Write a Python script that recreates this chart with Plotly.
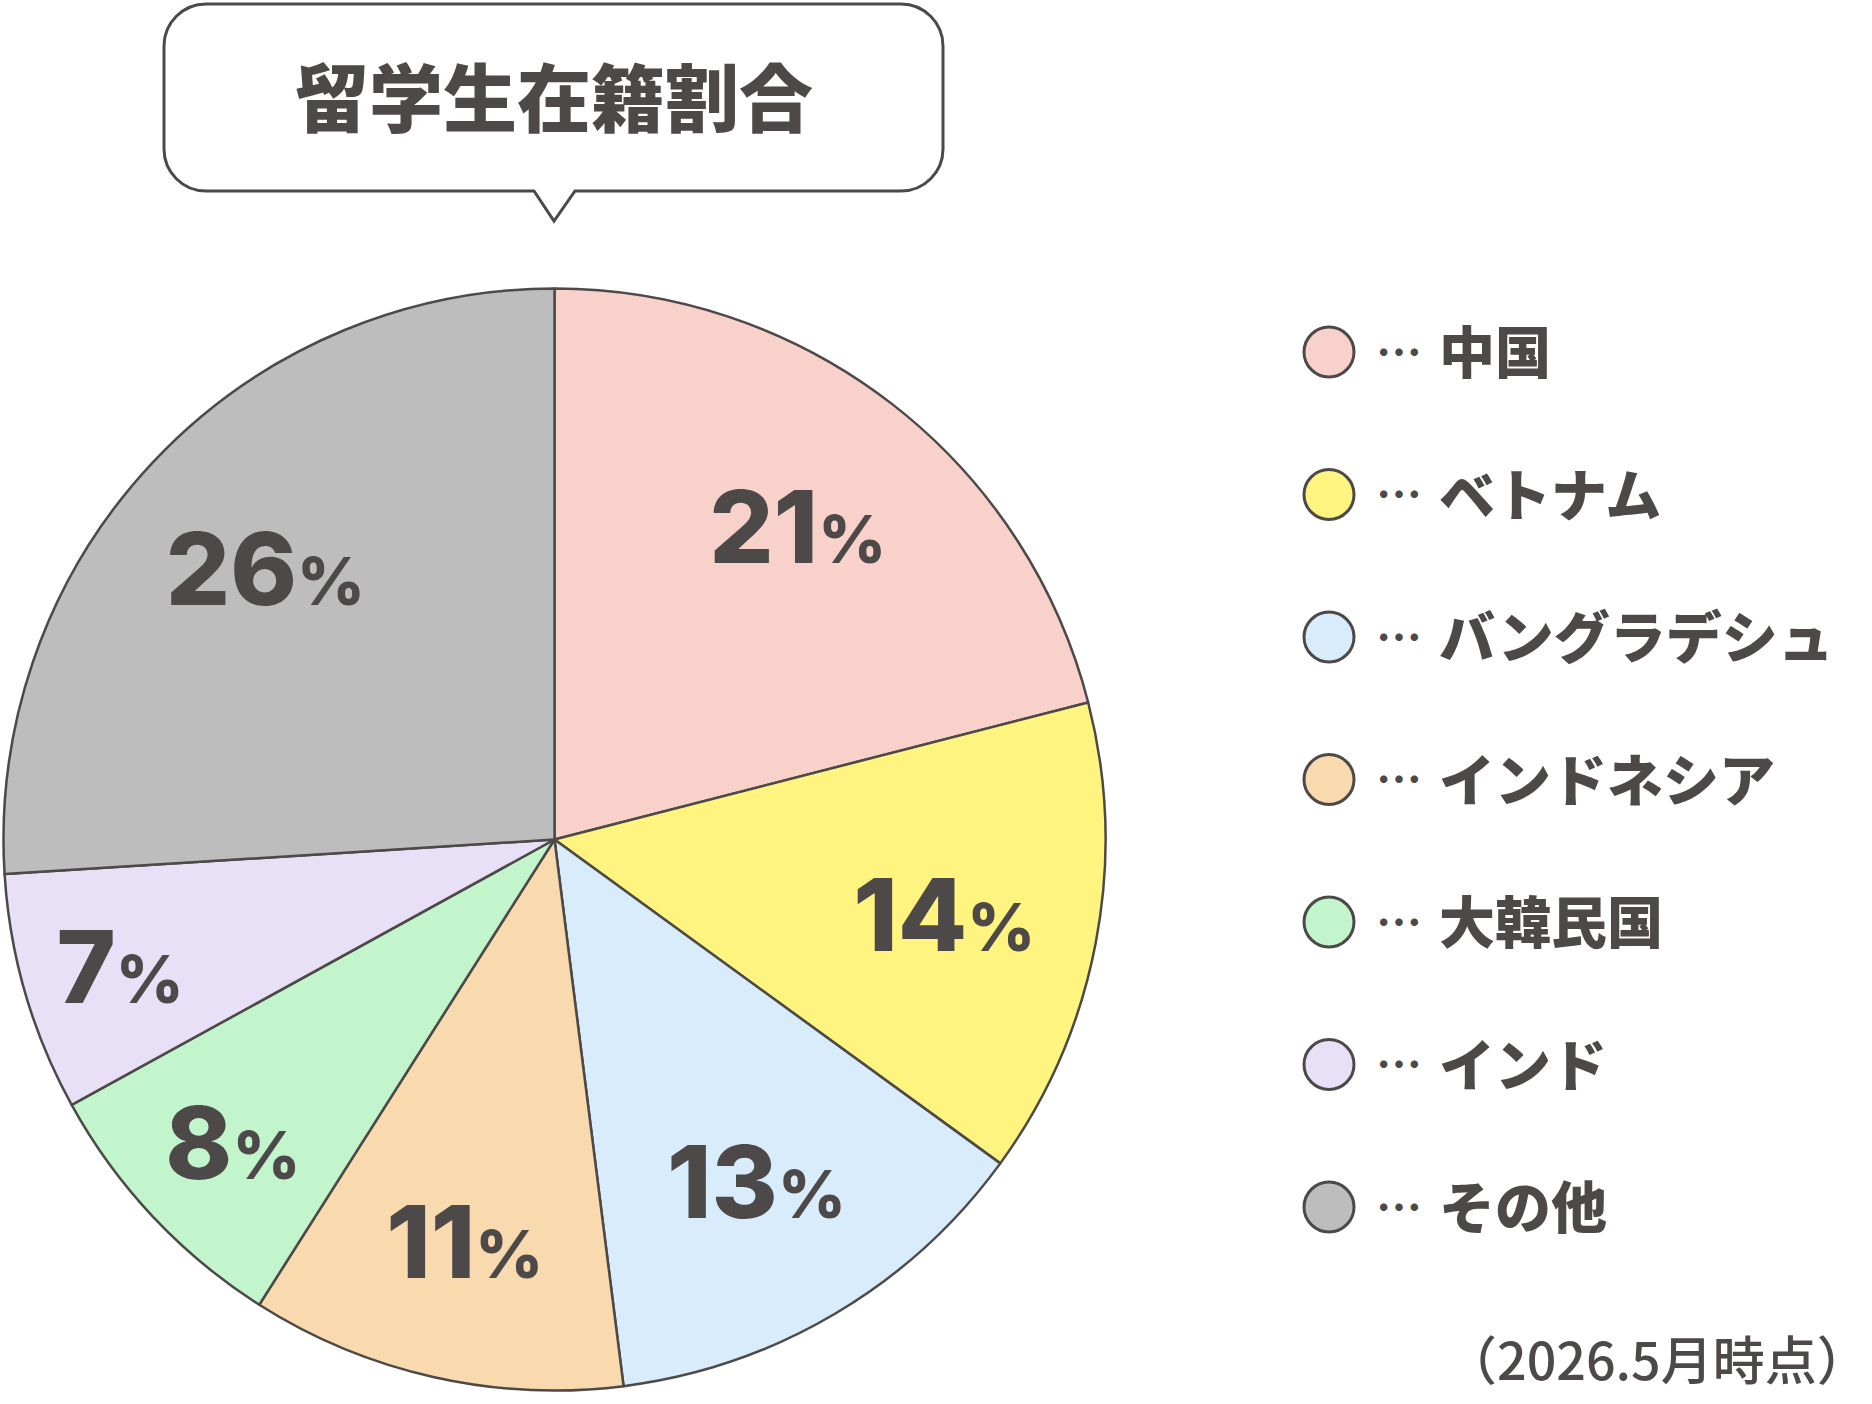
import plotly.graph_objects as go

# ---- data ----
categories = ["中国", "ベトナム", "バングラデシュ", "インドネシア", "大韓民国", "インド", "その他"]
shares = [21, 14, 13, 11, 8, 7, 26]
colors = ["#F8D2CA", "#FFF47F", "#D8ECFC", "#F9D9AE", "#C2F5CB", "#E8E0F7", "#BDBDBD"]
title_text = "留学生在籍割合"
note_text = "（2026.5月時点）"

# ---- layout constants ----
W, H = 1872, 1404
INK = "#4D4948"
FONT = "Noto Sans CJK JP"
NUMFONT = "Inter"
cx, cy, r = 554.5, 839.5, 551
pie_domain = dict(x=[(cx - r) / W, (cx + r) / W], y=[(H - cy - r) / H, (H - cy + r) / H])

fig = go.Figure()

# filled slices
fig.add_trace(go.Pie(
    labels=categories, values=shares, sort=False, direction="clockwise", rotation=0,
    marker=dict(colors=colors, line=dict(color=INK, width=2.5)),
    domain=pie_domain, textinfo="none",
    hoverinfo="label+percent", showlegend=False,
))
# transparent ring carrying the percentage labels (places them in the outer part of each slice)
fig.add_trace(go.Pie(
    labels=categories, values=shares, sort=False, direction="clockwise", rotation=0,
    hole=0.44,
    marker=dict(colors=["rgba(0,0,0,0)"] * len(categories), line=dict(width=0)),
    domain=pie_domain,
    texttemplate="%{value}<span style='font-size:66px'>%</span>",
    textposition="inside", insidetextorientation="horizontal",
    insidetextfont=dict(family=NUMFONT, size=101, color=INK, weight=800),
    hoverinfo="skip", showlegend=False,
))

# legend (custom) in page pixel coordinates
leg_x, leg_y0, leg_step = 1329, 352, 142.5
leg_y = [leg_y0 + i * leg_step for i in range(len(categories))]

fig.add_trace(go.Scatter(
    x=[leg_x] * len(categories), y=leg_y, mode="markers",
    marker=dict(size=50, color=colors, line=dict(color=INK, width=3)),
    hoverinfo="skip", showlegend=False,
))
fig.add_trace(go.Scatter(
    x=[leg_x + 70] * len(categories), y=[v + 5 for v in leg_y], mode="text",
    text=["…"] * len(categories), textposition="middle center",
    textfont=dict(family=FONT, size=46, color=INK, weight=700),
    hoverinfo="skip", showlegend=False,
))
fig.add_trace(go.Scatter(
    x=[leg_x + 110] * len(categories), y=[v + 7 for v in leg_y], mode="text",
    text=categories, textposition="middle right",
    textfont=dict(family=FONT, size=56, color=INK, weight=900),
    marker=dict(size=1),
    hoverinfo="skip", showlegend=False,
))

# speech bubble
L, R, T, B, rr = 164, 943, 4, 191, 42
k = 0.5523 * rr
tail_l, tail_r, tail_x, tail_y = 534, 575, 554, 221
path = (
    f"M {L+rr},{T} H {R-rr} C {R-rr+k},{T} {R},{T+rr-k} {R},{T+rr} "
    f"V {B-rr} C {R},{B-rr+k} {R-rr+k},{B} {R-rr},{B} "
    f"H {tail_r} L {tail_x},{tail_y} L {tail_l},{B} H {L+rr} "
    f"C {L+rr-k},{B} {L},{B-rr+k} {L},{B-rr} V {T+rr} "
    f"C {L},{T+rr-k} {L+rr-k},{T} {L+rr},{T} Z"
)
fig.add_shape(type="path", path=path, xref="x", yref="y",
              line=dict(color=INK, width=3), fillcolor="white", layer="above")

fig.add_annotation(x=(L + R) / 2, y=93, xref="x", yref="y", text=title_text,
                   showarrow=False, font=dict(family=FONT, size=74, color=INK, weight=900),
                   xanchor="center", yanchor="middle")

fig.add_annotation(x=1.0, y=1357, xref="paper", yref="y", text=note_text, xshift=-1,
                   showarrow=False, font=dict(family=FONT, size=52, color=INK, weight=500),
                   xanchor="right", yanchor="middle")

fig.update_layout(
    width=W, height=H, margin=dict(l=0, r=0, t=0, b=0),
    paper_bgcolor="white", plot_bgcolor="rgba(0,0,0,0)",
    xaxis=dict(range=[0, W], domain=[0, 1], visible=False, fixedrange=True),
    yaxis=dict(range=[H, 0], domain=[0, 1], visible=False, fixedrange=True),
    showlegend=False,
)

fig.write_html("out.html")
